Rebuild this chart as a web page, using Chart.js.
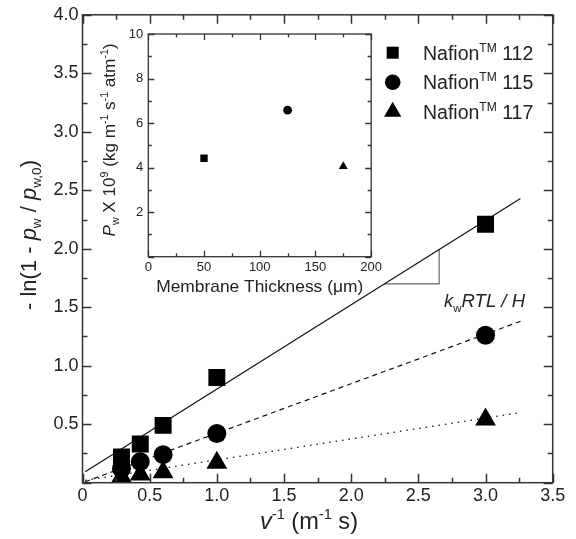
<!DOCTYPE html>
<html>
<head>
<meta charset="utf-8">
<script src="https://cdn.jsdelivr.net/npm/chart.js@4/dist/chart.umd.min.js"></script>
<style>
  html, body { margin: 0; padding: 0; background: #fff; }
  #wrap { position: relative; width: 576px; height: 539px; }
  #main { position: absolute; left: 0; top: 0; }
  #inset { position: absolute; left: 80px; top: 20px; }
</style>
</head>
<body>
<div id="wrap">
  <canvas id="main" width="576" height="539"></canvas>
  <canvas id="inset" width="305" height="290"></canvas>
</div>
<script>
const FONT = "'Liberation Sans', Arial, sans-serif";
const INK = "#222";

// main plot data
const invVelocity = [0.29, 0.43, 0.6, 1.0, 3.0];
const nafion112 = [0.22, 0.33, 0.49, 0.90, 2.21];
const nafion115 = [0.12, 0.18, 0.24, 0.42, 1.26];
const nafion117 = [0.05, 0.07, 0.09, 0.17, 0.54];
const membranes = ["112", "115", "117"];

// fitted lines (end points)
const fitX = [0.02, 3.26];
const fit112 = [0.094, 2.43];
const fit115 = [0.008, 1.38];
const fit117 = [0.02, 0.60];

// slope triangle under the solid line
const slopeX = [2.245, 2.655, 2.655];
const slopeY = [1.70, 1.70, 1.995];

// inset data
const thickness = [50, 125, 175];
const permeance = [4.42, 6.58, 4.05];

const toXY = (xs, ys) => xs.map((x, i) => ({ x: x, y: ys[i] }));

// frame + inward major/minor ticks on all four sides
const frameTicks = {
  id: "frameTicks",
  afterDatasetsDraw(chart, args, o) {
    const { ctx, chartArea: a, scales: { x, y } } = chart;
    ctx.save();
    ctx.strokeStyle = o.color;
    ctx.lineWidth = o.width;
    ctx.beginPath();
    const nx = Math.round((x.max - x.min) / (o.xStep / 2));
    for (let i = 0; i <= nx; i++) {
      const px = Math.round(x.getPixelForValue(x.min + i * o.xStep / 2)) + 0.5;
      const len = i % 2 === 0 ? o.major : o.minor;
      ctx.moveTo(px, a.bottom); ctx.lineTo(px, a.bottom - len);
      ctx.moveTo(px, a.top); ctx.lineTo(px, a.top + len);
    }
    const ny = Math.round((y.max - y.min) / (o.yStep / 2));
    for (let i = 0; i <= ny; i++) {
      const py = Math.round(y.getPixelForValue(y.min + i * o.yStep / 2)) + 0.5;
      const len = i % 2 === 0 ? o.major : o.minor;
      ctx.moveTo(a.left, py); ctx.lineTo(a.left + len, py);
      ctx.moveTo(a.right, py); ctx.lineTo(a.right - len, py);
    }
    ctx.stroke();
    ctx.strokeRect(a.left, a.top, a.right - a.left, a.bottom - a.top);
    ctx.restore();
  }
};

// text with italics, sub- and superscripts
function drawRich(ctx, item) {
  const base = item.size;
  const segs = item.parts.map(([t, st, sh]) => {
    const sz = sh ? base * 0.62 : base;
    const font = (st === "i" ? "italic " : "") + sz + "px " + FONT;
    ctx.font = font;
    return {
      t, font,
      w: ctx.measureText(t).width,
      dy: sh === "sub" ? base * 0.24 : sh === "sup" ? -base * 0.42 : 0
    };
  });
  const total = segs.reduce((s, g) => s + g.w, 0);
  const sx = item.width ? item.width / total : 1;
  ctx.save();
  ctx.translate(item.x, item.y);
  if (item.rotate) ctx.rotate(item.rotate);
  ctx.scale(sx, 1);
  ctx.fillStyle = INK;
  ctx.textAlign = "left";
  ctx.textBaseline = "alphabetic";
  let cx = item.align === "left" ? 0 : -total / 2;
  segs.forEach(g => {
    ctx.font = g.font;
    ctx.fillText(g.t, cx, g.dy);
    cx += g.w;
  });
  ctx.restore();
}

const richTitles = {
  id: "richTitles",
  afterDraw(chart, args, o) {
    o.items.forEach(it => drawRich(chart.ctx, it));
  }
};

const markerLegend = {
  id: "markerLegend",
  afterDraw(chart, args, o) {
    const ctx = chart.ctx;
    ctx.save();
    o.items.forEach((it, i) => {
      const cy = o.top + i * o.gap;
      ctx.fillStyle = "#000";
      Chart.helpers.drawPoint(ctx, { pointStyle: it.style, radius: it.radius, rotation: 0, borderWidth: 0 }, o.markerX, cy);
      drawRich(ctx, {
        x: o.textX, y: cy + o.size * 0.36, size: o.size, align: "left",
        parts: [["Nafion"], ["TM", "", "sup"], [" " + it.name]]
      });
    });
    ctx.restore();
  }
};

const markerSet = (label, data, style, r) => ({
  label, data, pointStyle: style, pointRadius: r,
  backgroundColor: "#000", borderColor: "#000", borderWidth: 0,
  showLine: false, clip: 0
});
const lineSet = (data, dash, color) => ({
  data, showLine: true, pointRadius: 0, borderColor: color || "#111",
  borderWidth: 1.2, borderDash: dash, fill: false, clip: 0
});

new Chart(document.getElementById("main"), {
  type: "scatter",
  data: {
    datasets: [
      markerSet("Nafion 112", toXY(invVelocity, nafion112), "rect", 12),
      markerSet("Nafion 115", toXY(invVelocity, nafion115), "circle", 9.5),
      markerSet("Nafion 117", toXY(invVelocity, nafion117), "triangle", 12),
      lineSet(toXY(fitX, fit112), []),
      lineSet(toXY(fitX, fit115), [5, 4]),
      lineSet(toXY(fitX, fit117), [1.5, 5]),
      lineSet(toXY(slopeX, slopeY), [], "#666")
    ]
  },
  options: {
    responsive: false,
    animation: false,
    events: [],
    layout: { padding: { left: 0, top: 12.7, right: 23.3, bottom: 0 } },
    scales: {
      x: {
        type: "linear", min: 0, max: 3.5,
        grid: { display: false, drawTicks: false },
        border: { display: false },
        ticks: {
          stepSize: 0.5, padding: 3, color: INK,
          font: { family: FONT, size: 18 },
          callback: v => (v === 0 ? "0" : v.toFixed(1))
        },
        afterFit: s => { s.height = 56.3; }
      },
      y: {
        type: "linear", min: 0, max: 4,
        grid: { display: false, drawTicks: false },
        border: { display: false },
        ticks: {
          stepSize: 0.5, padding: 4, color: INK,
          font: { family: FONT, size: 18 },
          callback: v => (v === 0 ? "" : v.toFixed(1))
        },
        afterFit: s => { s.width = 82.5; }
      }
    },
    plugins: {
      legend: { display: false },
      tooltip: { enabled: false },
      frameTicks: { xStep: 0.5, yStep: 0.5, major: 9, minor: 5, color: "#333", width: 1.5 },
      markerLegend: {
        markerX: 392.7, textX: 423, top: 52.7, gap: 29.5, size: 19.5,
        items: [
          { name: membranes[0], style: "rect", radius: 8.5 },
          { name: membranes[1], style: "circle", radius: 7.8 },
          { name: membranes[2], style: "triangle", radius: 10 }
        ]
      },
      richTitles: {
        items: [
          { x: 35.5, y: 235, size: 22, width: 150, rotate: -Math.PI / 2,
            parts: [["- ln(1 - "], ["p", "i"], ["w", "", "sub"], [" / "], ["p", "i"], ["w,0", "", "sub"], [")"]] },
          { x: 309, y: 529, size: 24, width: 98,
            parts: [["v", "i"], ["-1", "", "sup"], [" (m"], ["-1", "", "sup"], [" s)"]] },
          { x: 484.5, y: 307, size: 19, width: 81,
            parts: [["k", "i"], ["w", "", "sub"], ["RTL / H", "i"]] }
        ]
      }
    }
  },
  plugins: [frameTicks, markerLegend, richTitles]
});

new Chart(document.getElementById("inset"), {
  type: "scatter",
  data: {
    datasets: [
      {
        data: toXY(thickness, permeance),
        pointStyle: ["rect", "circle", "triangle"],
        pointRadius: [5.2, 4.4, 5.2],
        backgroundColor: "#000", borderWidth: 0, showLine: false
      }
    ]
  },
  options: {
    responsive: false,
    animation: false,
    events: [],
    layout: { padding: { left: 0, top: 14, right: 12.7, bottom: 0 } },
    scales: {
      x: {
        type: "linear", min: 0, max: 200,
        grid: { display: false, drawTicks: false },
        border: { display: false },
        ticks: { stepSize: 50, padding: 3, color: INK, font: { family: FONT, size: 13 } },
        afterFit: s => { s.height = 53.3; }
      },
      y: {
        type: "linear", min: 0, max: 10,
        grid: { display: false, drawTicks: false },
        border: { display: false },
        ticks: {
          stepSize: 2, padding: 5, color: INK, font: { family: FONT, size: 13 },
          callback: v => (v === 0 ? "" : String(v))
        },
        afterFit: s => { s.width = 68.3; }
      }
    },
    plugins: {
      legend: { display: false },
      tooltip: { enabled: false },
      frameTicks: { xStep: 50, yStep: 2, major: 6, minor: 3.5, color: "#333", width: 1.3 },
      richTitles: {
        items: [
          { x: 35, y: 120, size: 17, width: 193, rotate: -Math.PI / 2,
            parts: [["P", "i"], ["w", "", "sub"], [" X 10"], ["9", "", "sup"], [" (kg m"], ["-1", "", "sup"],
                    [" s"], ["-1", "", "sup"], [" atm"], ["-1", "", "sup"], [")"]] },
          { x: 179.7, y: 272, size: 17, width: 207,
            parts: [["Membrane Thickness (μm)"]] }
        ]
      }
    }
  },
  plugins: [frameTicks, richTitles]
});
</script>
</body>
</html>
